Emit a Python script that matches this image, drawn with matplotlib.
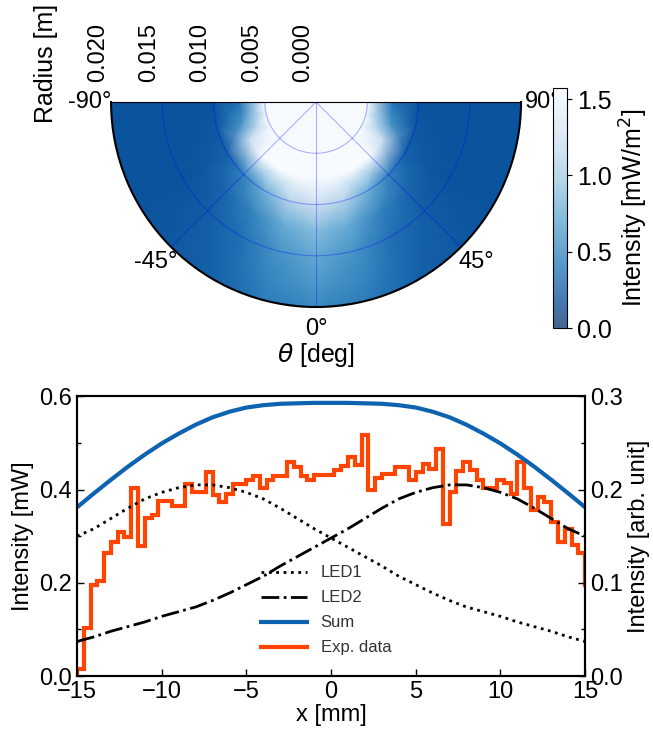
import numpy as np
import matplotlib.pyplot as plt
from matplotlib.transforms import offset_copy

plt.rcParams['font.family'] = ['Liberation Sans', 'DejaVu Sans']
plt.rcParams['font.size'] = 16
plt.rcParams['mathtext.fontset'] = 'dejavusans'

# --- Верхний график: распределение интенсивности (полярные координаты) ---
radii = [0.0, 0.005, 0.0075, 0.010, 0.0125, 0.015, 0.020]   # м
theta_half = [0, 15, 30, 45, 60, 75, 90]                    # градусы
# интенсивность [мВт/м^2], строки - радиусы, столбцы - theta_half
intensity_half = [
    [2.00, 2.00, 2.00, 2.00, 2.00, 2.00, 2.00],
    [2.00, 2.00, 2.00, 2.00, 2.00, 1.90, 1.60],
    [1.90, 1.85, 1.75, 1.65, 1.20, 0.60, 0.40],
    [1.25, 1.10, 0.80, 0.50, 0.30, 0.25, 0.22],
    [0.90, 0.75, 0.50, 0.33, 0.25, 0.22, 0.22],
    [0.75, 0.60, 0.38, 0.28, 0.22, 0.22, 0.22],
    [0.55, 0.45, 0.30, 0.24, 0.22, 0.22, 0.22],
]
theta_ticks = [-90, -45, 0, 45, 90]
theta_labels = ['-90°', '-45°', '0°', '45°', '90°']
r_ticks = [0.0, 0.005, 0.010, 0.015, 0.020]
cbar_ticks = [0.0, 0.5, 1.0, 1.5]

# --- Нижний график: профили ---
x_model = np.arange(-15, 16)  # мм
led1 = [0.150, 0.158, 0.169, 0.180, 0.190, 0.197, 0.202, 0.205, 0.205, 0.202,
        0.197, 0.190, 0.180, 0.169, 0.158, 0.148, 0.138, 0.128, 0.118, 0.107,
        0.098, 0.089, 0.081, 0.074, 0.069, 0.064, 0.058, 0.053, 0.048, 0.042,
        0.037]
led2 = led1[::-1]
sum_half = [0.181, 0.196, 0.2105, 0.2245, 0.2375, 0.2495, 0.260, 0.2695,
            0.2775, 0.2835, 0.288, 0.2905, 0.292, 0.2925, 0.293, 0.293]
led_sum = sum_half + sum_half[-2::-1]

# эксперимент: ступеньки по 0.4 мм (крайние ячейки за пределами осей)
exp_edges = np.linspace(-15.4, 15.4, 78)
exp_data = [0.000,
            0.016, 0.102, 0.195, 0.204, 0.263, 0.288, 0.308, 0.298, 0.404, 0.279,
            0.339, 0.346, 0.375, 0.375, 0.365, 0.365, 0.413, 0.395, 0.395, 0.438,
            0.388, 0.373, 0.390, 0.413, 0.413, 0.421, 0.430, 0.404, 0.420, 0.430,
            0.430, 0.459, 0.449, 0.430, 0.420, 0.431, 0.431, 0.431, 0.441, 0.450,
            0.470, 0.452, 0.516, 0.399, 0.424, 0.434, 0.434, 0.449, 0.449, 0.420,
            0.438, 0.455, 0.445, 0.486, 0.327, 0.395, 0.439, 0.459, 0.441, 0.421,
            0.404, 0.404, 0.421, 0.414, 0.391, 0.459, 0.404, 0.356, 0.383, 0.374,
            0.331, 0.288, 0.316, 0.281, 0.263,
            0.195]

fig = plt.figure(figsize=(6.53, 7.36), dpi=100)

# полярный график (рамка вдвое выше полукруга)
axp = fig.add_axes([0.170, 0.4436, 0.628, 0.557], projection='polar')
axp.set_theta_zero_location('S')
axp.set_thetamin(-90)
axp.set_thetamax(90)

theta_deg = np.array([-t for t in theta_half[:0:-1]] + theta_half)
Z = np.array(intensity_half)
Z = np.hstack([Z[:, :0:-1], Z])
T, R = np.meshgrid(np.deg2rad(theta_deg), radii)
cmap = plt.get_cmap('Blues_r')
axp.set_facecolor(cmap(0.22 / 1.57))
mesh = axp.pcolormesh(T, R, Z, cmap=cmap, vmin=0, vmax=1.57, shading='gouraud')
axp.set_rlim(0, 0.02)
axp.set_thetagrids(theta_ticks, labels=theta_labels, fontsize=17)
axp.tick_params(axis='x', pad=5)
axp.set_rgrids(r_ticks, labels=[''] * len(r_ticks))
axp.grid(color='blue', alpha=0.3, lw=0.8)
axp.spines['polar'].set_linewidth(1.5)

# подписи радиуса над верхним краем
r_trans = offset_copy(axp.transData, fig=fig, x=-13, y=20, units='dots')
for r in r_ticks:
    axp.text(np.deg2rad(-90), r, f'{r:.3f}', rotation=90, ha='center',
             va='bottom', transform=r_trans, fontsize=17)
fig.text(46 / 653, 1 - 63 / 736, 'Radius [m]', rotation=90, ha='center',
         va='center', fontsize=18)
fig.text(316 / 653, 1 - 355 / 736, r'$\theta$ [deg]', ha='center',
         va='center', fontsize=18)

cax = fig.add_axes([0.847, 0.554, 0.022, 0.326])
cb = fig.colorbar(mesh, cax=cax, ticks=cbar_ticks)
cb.solids.set_alpha(0.75)
cb.ax.tick_params(labelsize=18)
cb.set_label('Intensity [mW/m$^2$]', fontsize=18)

# нижний график
ax = fig.add_axes([0.118, 0.0815, 0.778, 0.380])
ax2 = ax.twinx()
h_exp = ax.stairs(exp_data, exp_edges, baseline=None, color='#ff4500', lw=3,
                  label='Exp. data')
h1, = ax2.plot(x_model, led1, color='black', ls=':', lw=2, label='LED1')
h2, = ax2.plot(x_model, led2, color='black', ls='-.', lw=2, label='LED2')
h3, = ax2.plot(x_model, led_sum, color='#0e63b0', lw=3, label='Sum')

ax.set_xlim(-15, 15)
ax.set_ylim(0, 0.6)
ax2.set_ylim(0, 0.3)
ax.set_xticks([-15, -10, -5, 0, 5, 10, 15])
ax.set_yticks([0.0, 0.2, 0.4, 0.6])
ax.set_yticks([0.1, 0.3, 0.5], minor=True)
ax2.set_yticks([0.0, 0.1, 0.2, 0.3])
ax2.set_yticks([0.05, 0.15, 0.25], minor=True)
ax.yaxis.set_major_formatter(plt.FormatStrFormatter('%.1f'))
ax2.yaxis.set_major_formatter(plt.FormatStrFormatter('%.1f'))
for a in (ax, ax2):
    a.tick_params(which='both', direction='in', labelsize=17)
    a.tick_params(which='major', length=5, width=1)
    a.tick_params(which='minor', length=3, width=1)
    for s in a.spines.values():
        s.set_linewidth(1.5)
ax.set_xlabel('x [mm]', fontsize=17, labelpad=1)
ax.set_ylabel('Intensity [mW]', fontsize=17)
ax2.set_ylabel('Intensity [arb. unit]', fontsize=17)

ax2.legend(handles=[h1, h2, h3, h_exp], loc='lower center',
           bbox_to_anchor=(0.49, 0.02), frameon=False, fontsize=12,
           labelcolor='0.2', handlelength=2.8, labelspacing=0.6)

fig.savefig('out.png', dpi=100)
